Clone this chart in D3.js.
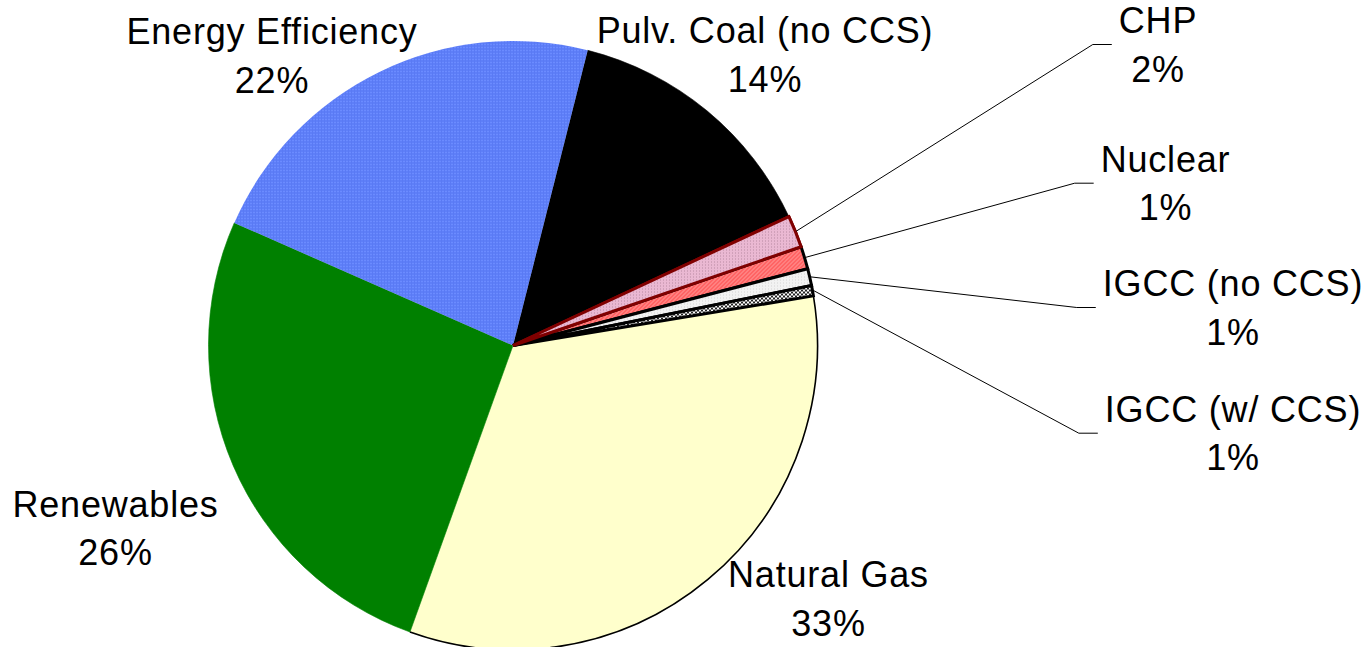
<!DOCTYPE html>
<html>
<head>
<meta charset="utf-8">
<script src="https://cdn.jsdelivr.net/npm/d3@7"></script>
<style>
  html, body { margin: 0; padding: 0; background: #ffffff; }
  svg { display: block; }
  text { font-family: "Liberation Sans", Arial, sans-serif; font-size: 36px; fill: #000; letter-spacing: 0.8px; }
</style>
</head>
<body>
<svg id="chart" width="1369" height="647"></svg>
<script>
// ---- data ----
const categories = ["Pulv. Coal (no CCS)", "CHP", "Nuclear", "IGCC (no CCS)", "IGCC (w/ CCS)", "Natural Gas", "Renewables", "Energy Efficiency"];
const values = [14.1, 1.7, 1.2, 0.9, 0.55, 33.1, 26.1, 22.35];

// ---- styles / layout ----
const fills = ["#000000", "url(#pChp)", "url(#pNuc)", "url(#pIgcc)", "url(#pIgccw)", "#ffffcc", "#008000", "url(#pEe)"];
const strokes = ["none", "#800000", "#000000", "#000000", "#000000", "none", "none", "none"];
const labelX = [765, 1158, 1165.5, 1233, 1233, 828.5, 115.5, 272];
const labelY = [43, 33, 171.7, 296, 421.7, 587.3, 516.7, 44];
const useLeader = [false, true, true, true, true, false, false, false];
const lineGap = 48.5;

const width = 1369, height = 647;
const cx = 513, cy = 345.5, radius = 304.5;
const startDeg = 14.2;

const svg = d3.select("#chart");
const defs = svg.append("defs");

// patterns
const pEe = defs.append("pattern").attr("id", "pEe").attr("patternUnits", "userSpaceOnUse").attr("width", 3).attr("height", 3);
pEe.append("rect").attr("width", 3).attr("height", 3).attr("fill", "#6b8bff");
pEe.append("rect").attr("width", 3).attr("height", 1).attr("fill", "#5272f0");
pEe.append("rect").attr("width", 1).attr("height", 3).attr("fill", "#5a7af4");

const pChp = defs.append("pattern").attr("id", "pChp").attr("patternUnits", "userSpaceOnUse").attr("width", 3).attr("height", 3);
pChp.append("rect").attr("width", 3).attr("height", 3).attr("fill", "#eab8d2");
pChp.append("rect").attr("width", 1).attr("height", 1).attr("fill", "#b88aa2");

const pNuc = defs.append("pattern").attr("id", "pNuc").attr("patternUnits", "userSpaceOnUse").attr("width", 4).attr("height", 4);
pNuc.append("rect").attr("width", 4).attr("height", 4).attr("fill", "#ff6464");
pNuc.append("path").attr("d", "M0,4 L4,0 M-1,1 L1,-1 M3,5 L5,3").attr("stroke", "#ff9c9c").attr("stroke-width", 1);

const pIgcc = defs.append("pattern").attr("id", "pIgcc").attr("patternUnits", "userSpaceOnUse").attr("width", 3).attr("height", 3);
pIgcc.append("rect").attr("width", 3).attr("height", 3).attr("fill", "#f2f2f2");
pIgcc.append("rect").attr("width", 1).attr("height", 1).attr("fill", "#d4d4d4");

const pIgccw = defs.append("pattern").attr("id", "pIgccw").attr("patternUnits", "userSpaceOnUse").attr("width", 4).attr("height", 4);
pIgccw.append("rect").attr("width", 4).attr("height", 4).attr("fill", "#ffffff");
pIgccw.append("rect").attr("width", 2).attr("height", 2).attr("fill", "#222");
pIgccw.append("rect").attr("x", 2).attr("y", 2).attr("width", 2).attr("height", 2).attr("fill", "#222");

const data = categories.map((c, i) => ({ name: c, value: values[i], i }));
const total = d3.sum(values);

const s0 = startDeg * Math.PI / 180;
const pie = d3.pie().value(d => d.value).sort(null).startAngle(s0).endAngle(s0 + 2 * Math.PI);
const arcs = pie(data);
const arc = d3.arc().innerRadius(0).outerRadius(radius);
const outline = d3.arc().innerRadius(radius).outerRadius(radius);
const leaderArc = d3.arc().innerRadius(radius + 1).outerRadius(radius + 1);

const g = svg.append("g").attr("transform", `translate(${cx},${cy})`);

// big slices first (no stroke), then stroked small slices
g.selectAll("path.slice")
  .data(arcs)
  .join("path")
  .attr("class", "slice")
  .attr("d", arc)
  .attr("fill", d => fills[d.data.i])
  .attr("stroke", d => fills[d.data.i].startsWith("#") ? fills[d.data.i] : "none")
  .attr("stroke-width", 0.6);

// natural gas outer outline
arcs.filter(d => d.data.name === "Natural Gas").forEach(d => {
  g.append("path").attr("d", outline(d)).attr("fill", "none").attr("stroke", "#000").attr("stroke-width", 1.6);
});

// stroked small slices
g.selectAll("path.small")
  .data(arcs.filter(d => strokes[d.data.i] !== "none"))
  .join("path")
  .attr("class", "small")
  .attr("d", arc)
  .attr("fill", d => fills[d.data.i])
  .attr("stroke", d => strokes[d.data.i])
  .attr("stroke-width", 3)
  .attr("stroke-linejoin", "miter");

// redraw CHP on top so its dark-red border shows
arcs.filter(d => d.data.name === "CHP").forEach(d => {
  g.append("path").attr("d", arc(d)).attr("fill", fills[d.data.i]).attr("stroke", strokes[d.data.i]).attr("stroke-width", 3);
});

// labels
const lab = svg.append("g");
arcs.forEach(d => {
  const i = d.data.i;
  const t = lab.append("text").attr("text-anchor", "middle");
  t.append("tspan").attr("x", labelX[i]).attr("y", labelY[i]).text(d.data.name);
  t.append("tspan").attr("x", labelX[i]).attr("y", labelY[i] + lineGap).text(Math.round(d.data.value / total * 100) + "%");
  if (useLeader[i]) {
    const bb = t.node().getBBox();
    const endX = bb.x - 7;
    const elbowX = endX - 19;
    const ly = labelY[i] + 11.5;
    const mid = (d.startAngle + d.endAngle) / 2;
    const sx = cx + (radius + 1) * Math.sin(mid);
    const sy = cy - (radius + 1) * Math.cos(mid);
    lab.append("path")
      .attr("d", d3.line()([[sx, sy], [elbowX, ly], [endX, ly]]))
      .attr("fill", "none")
      .attr("stroke", "#000")
      .attr("stroke-width", 1);
  }
});
</script>
</body>
</html>
